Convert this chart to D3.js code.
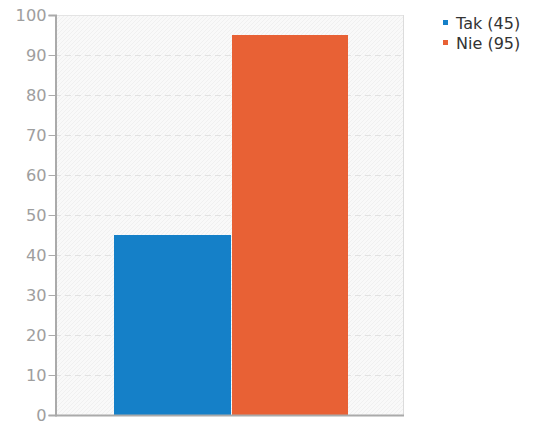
<!DOCTYPE html>
<html><head><meta charset="utf-8">
<script src="https://cdn.jsdelivr.net/npm/d3@7"></script>
<style>body{margin:0;background:#fff;}svg{display:block;}</style>
</head><body>
<script>
const categories = ["Tak", "Nie"];
const values = [45, 95];
const colors = ["#1580c8", "#e86135"];
const yTicks = [0,10,20,30,40,50,60,70,80,90,100];

const W = 533, H = 421;
const m = {left: 55, top: 15, right: 403, bottom: 415};
const svg = d3.select("body").append("svg").attr("width", W).attr("height", H);

const defs = svg.append("defs");
const pat = defs.append("pattern").attr("id","hatch").attr("patternUnits","userSpaceOnUse")
  .attr("width",4).attr("height",4);
pat.append("rect").attr("width",4).attr("height",4).attr("fill","#f9f9f9");
pat.append("path").attr("d","M-1,1 l2,-2 M0,4 l4,-4 M3,5 l2,-2").attr("stroke","#eeeeee").attr("stroke-width",0.8);

const x = d3.scaleBand().domain(categories).range([114, 348]).padding(0);
const y = d3.scaleLinear().domain([0,100]).range([m.bottom, m.top]);

svg.append("rect").attr("x", m.left).attr("y", m.top).attr("width", m.right-m.left).attr("height", m.bottom-m.top)
  .attr("fill","url(#hatch)");

// gridlines
svg.append("g").selectAll("line").data(yTicks.filter(d=>d>0 && d<100)).join("line")
  .attr("x1", m.left).attr("x2", m.right).attr("y1", d=>y(d)+0.5).attr("y2", d=>y(d)+0.5)
  .attr("stroke","#e2e2e2").attr("stroke-dasharray","6,4");

// top and right border
svg.append("line").attr("x1",m.left).attr("x2",m.right).attr("y1",m.top+0.5).attr("y2",m.top+0.5).attr("stroke","#e4e4e4");
svg.append("line").attr("x1",m.right+0.5).attr("x2",m.right+0.5).attr("y1",m.top).attr("y2",m.bottom).attr("stroke","#dcdcdc");

// bars
svg.append("g").selectAll("rect").data(values).join("rect")
  .attr("x",(d,i)=>x(categories[i])+(i?1:0))
  .attr("width",(d,i)=>x.bandwidth()-(i?1:0))
  .attr("y",d=>y(d)).attr("height",d=>y(0)-y(d))
  .attr("fill",(d,i)=>colors[i]);

// y axis
const yAxis = d3.axisLeft(y).tickValues(yTicks).tickSize(7).tickPadding(2);
const gy = svg.append("g").attr("transform",`translate(${m.left+0.5},0)`).call(yAxis);
gy.attr("font-size", null).attr("font-family", null);
gy.select(".domain").attr("stroke","#aaaaaa").attr("stroke-width",2);
gy.selectAll(".tick line").attr("stroke","#aaaaaa");
gy.selectAll(".tick text").attr("fill","#9e9e9e").attr("font-family","DejaVu Sans")
  .attr("font-size","15px").attr("x", null).attr("dy","0.36em")
  .attr("transform","translate(-9,0) scale(1.08,1)");

// x axis bottom line
svg.append("line").attr("x1",m.left).attr("x2",m.right+1).attr("y1",m.bottom+0.5).attr("y2",m.bottom+0.5).attr("stroke","#aaaaaa").attr("stroke-width",2);

// legend
const lg = svg.append("g").attr("transform","translate(443,16)");
categories.forEach((c,i)=>{
  const g = lg.append("g").attr("transform",`translate(0,${i*20})`);
  g.append("rect").attr("x",0).attr("y",4).attr("width",5).attr("height",5).attr("fill",colors[i]);
  g.append("text").attr("transform","translate(13,12.5) scale(1.07,1)").attr("fill","#333").attr("font-family","DejaVu Sans")
    .attr("font-size","15px").text(`${c} (${values[i]})`);
});
</script>
</body></html>
